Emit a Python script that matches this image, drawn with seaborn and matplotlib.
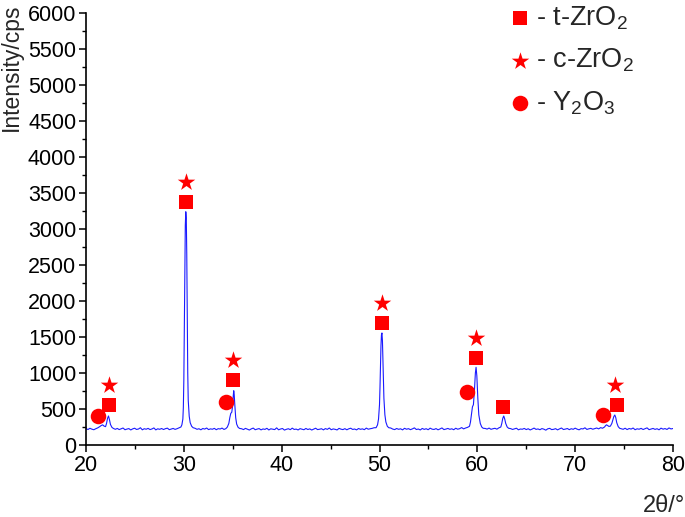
import numpy as np
import matplotlib
matplotlib.use("Agg")
import matplotlib.pyplot as plt
import seaborn as sns
from matplotlib.ticker import MultipleLocator

# ---------------- data ----------------
# baseline segments: (start 2theta, end 2theta, counts)
segA_counts = [228, 215, 232, 220, 212, 226]
segB_counts = [218, 230, 214, 225, 236, 212, 221, 228, 209, 224, 233, 216, 222, 240, 211, 226, 219,
               231, 214, 223, 237, 210, 225, 218, 229, 215, 227, 234, 213, 221, 230, 217, 226, 238]
segC_counts = [232, 218, 226, 211, 229, 221, 236, 214, 224, 219, 231, 212, 227, 222, 235, 216, 228]
segD_counts = [226, 214, 231, 219, 208, 224, 235, 212, 221, 228, 210, 223, 217, 232, 209, 225, 220,
               214, 238, 211, 222, 229, 207, 218, 226, 213, 234, 216, 221, 209, 227, 219, 212, 230,
               215, 224, 208, 221, 233, 214, 219, 226, 210, 228, 217, 236, 212, 223, 218, 209, 231,
               220, 214, 227, 211, 225, 233, 216, 222, 210, 229, 218, 224, 213, 235, 219, 226, 231, 240]
segE_counts = [236, 221, 214, 229, 218, 225, 210, 232, 219, 227, 213, 224, 238, 215, 222, 209, 230,
               217, 226, 212, 234, 220, 216, 228, 211, 223, 237, 214, 221, 230, 218, 225, 212, 233,
               219, 227, 242, 224, 236, 245]
segF_counts = [230, 221, 235, 218, 226, 232, 220, 238]
segG_counts = [228, 216, 224, 233, 211, 222, 219, 230, 214, 226, 209, 221, 235, 217, 223, 212, 228,
               220, 206, 225, 231, 214, 218, 227, 210, 224, 236, 215, 221, 229, 213, 226, 218, 234,
               220, 211, 227, 223, 239, 216, 225, 231, 219, 228, 236, 224, 241, 233]
segH_counts = [226, 218, 233, 214, 229, 221, 236, 212, 225, 219, 231, 215, 227, 238, 213, 222, 230,
               217, 226, 211, 234, 220, 228, 216, 237, 223, 229]

# peak segments
pk22_tt = [21.2, 21.4, 21.55, 21.7, 21.85, 22.0, 22.1, 22.2, 22.3, 22.4, 22.5, 22.65, 22.8]
pk22_ct = [238, 255, 270, 280, 262, 255, 300, 370, 403, 350, 285, 245, 230]
pk30_tt = [29.7, 29.8, 29.9, 29.95, 30.0, 30.05, 30.1, 30.15, 30.2, 30.25, 30.3, 30.35, 30.4, 30.45, 30.55, 30.65, 30.8, 30.95]
pk30_ct = [250, 280, 360, 520, 900, 1600, 2450, 3050, 3240, 3150, 2650, 1800, 1000, 620, 400, 310, 260, 240]
pk35_tt = [34.45, 34.6, 34.7, 34.8, 34.9, 35.0, 35.05, 35.1, 35.15, 35.2, 35.3, 35.4, 35.55, 35.7]
pk35_ct = [250, 300, 380, 440, 455, 560, 680, 754, 700, 580, 380, 290, 245, 230]
pk50_tt = [49.65, 49.8, 49.9, 50.0, 50.05, 50.1, 50.15, 50.2, 50.25, 50.3, 50.35, 50.4, 50.45, 50.55, 50.65, 50.8, 50.95]
pk50_ct = [240, 280, 360, 560, 800, 1100, 1380, 1530, 1556, 1450, 1200, 900, 650, 420, 320, 260, 240]
pk60_tt = [59.2, 59.3, 59.4, 59.5, 59.55, 59.6, 59.7, 59.8, 59.87, 59.95, 60.05, 60.15, 60.3, 60.45, 60.6]
pk60_ct = [260, 320, 420, 530, 545, 560, 750, 1000, 1079, 960, 650, 420, 300, 250, 232]
pk63_tt = [62.4, 62.5, 62.6, 62.7, 62.8, 62.9, 63.05, 63.2]
pk63_ct = [250, 300, 370, 403, 360, 300, 250, 232]
pk74_tt = [73.0, 73.1, 73.2, 73.3, 73.45, 73.6, 73.75, 73.85, 73.95, 74.05, 74.15, 74.25, 74.4, 74.55]
pk74_ct = [250, 268, 280, 272, 258, 262, 300, 350, 395, 417, 380, 310, 255, 232]

# phase markers
t_zro2_x = [22.35, 30.22, 35.06, 50.26, 59.9, 62.66, 74.25]
t_zro2_y = [556, 3371, 903, 1694, 1204, 532, 556]
c_zro2_x = [22.3, 30.22, 35.06, 50.26, 59.9, 74.1]
c_zro2_y = [833, 3649, 1181, 1972, 1482, 833]
y2o3_x = [21.26, 34.28, 58.98, 72.8]
y2o3_y = [407, 593, 732, 417]

legend_labels = ["- t-ZrO$_2$", "- c-ZrO$_2$", "- Y$_2$O$_3$"]
x_ticks = [20, 30, 40, 50, 60, 70, 80]
y_ticks = list(range(0, 6001, 500))

# ---------------- assemble scan ----------------
def seg(a, b, counts):
    return list(np.linspace(a, b, len(counts))), list(counts)

pieces = [
    seg(20.0, 21.0, segA_counts), (pk22_tt, pk22_ct),
    seg(23.0, 29.5, segB_counts), (pk30_tt, pk30_ct),
    seg(31.15, 34.3, segC_counts), (pk35_tt, pk35_ct),
    seg(35.9, 49.45, segD_counts), (pk50_tt, pk50_ct),
    seg(51.15, 59.0, segE_counts), (pk60_tt, pk60_ct),
    seg(60.8, 62.2, segF_counts), (pk63_tt, pk63_ct),
    seg(63.4, 72.8, segG_counts), (pk74_tt, pk74_ct),
    seg(74.7, 80.0, segH_counts),
]
tt = np.concatenate([p[0] for p in pieces])
ct = np.concatenate([p[1] for p in pieces])

# ---------------- plot ----------------
sns.set_theme(style="ticks")
plt.rcParams["font.family"] = ["Liberation Sans", "DejaVu Sans"]
plt.rcParams["mathtext.default"] = "regular"

fig = plt.figure(figsize=(6.85, 5.17), dpi=100)
ax = fig.add_axes([86 / 685, (517 - 445) / 517, 587 / 685, 432 / 517])

sns.lineplot(x=tt, y=ct, ax=ax, color="#1a1aff", linewidth=0.8, sort=False, estimator=None)

sns.scatterplot(x=t_zro2_x, y=t_zro2_y, marker="s", s=115, color="#ff0000", linewidth=0,
                ax=ax, label=legend_labels[0], zorder=3)
sns.scatterplot(x=c_zro2_x, y=c_zro2_y, marker="*", s=175, color="#ff0000", linewidth=0,
                ax=ax, label=legend_labels[1], zorder=3)
sns.scatterplot(x=y2o3_x, y=y2o3_y, marker="o", s=125, color="#ff0000", linewidth=0,
                ax=ax, label=legend_labels[2], zorder=3)

ax.set_xlim(20, 80)
ax.set_ylim(0, 6000)
ax.set_xticks(x_ticks)
ax.set_yticks(y_ticks)
ax.xaxis.set_minor_locator(MultipleLocator(5))
ax.yaxis.set_minor_locator(MultipleLocator(250))
ax.tick_params(axis="both", which="major", direction="out", length=5, width=1.1,
               labelsize=15.5, color="black", labelcolor="black", pad=2)
ax.tick_params(axis="both", which="minor", direction="out", length=3, width=1.0, color="black")
for s in ["top", "right"]:
    ax.spines[s].set_visible(False)
for s in ["left", "bottom"]:
    ax.spines[s].set_linewidth(1.2)
    ax.spines[s].set_color("black")

ax.set_ylabel("Intensity/cps", fontsize=16.5, loc="top")
ax.yaxis.set_label_coords(-0.108, 1.022)
ax.set_xlabel("2θ/°", fontsize=17, loc="right")
ax.xaxis.set_label_coords(1.02, -0.115)

leg = ax.legend(frameon=False, loc="upper left", bbox_to_anchor=(509 / 685, 1 - 4 / 517),
                bbox_transform=fig.transFigure, fontsize=19.5, handlelength=0.8,
                handletextpad=0.2, labelspacing=0.56, borderpad=0, borderaxespad=0)

fig.savefig("out.png", dpi=100, facecolor="white")
